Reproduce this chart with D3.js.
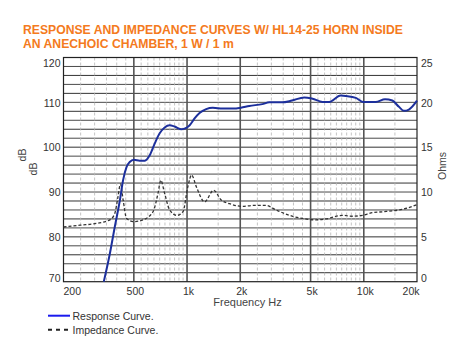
<!DOCTYPE html>
<html><head><meta charset="utf-8">
<script src="https://cdn.jsdelivr.net/npm/d3@7"></script>
<style>body{margin:0;background:#fff}svg{display:block}</style>
</head><body>
<svg id="c" width="467" height="357"></svg>
<script>
// ---- data ----
const titleLines = ["RESPONSE AND IMPEDANCE CURVES W/ HL14-25 HORN INSIDE", "AN ANECHOIC CHAMBER, 1 W / 1 m"];
const freqTicks = [200, 500, 1000, 2000, 5000, 10000, 20000];
const freqTickLabels = ["200", "500", "1k", "2k", "5k", "10k", "20k"];
const dbTicks = [70, 80, 90, 100, 110, 120];
const ohmTicks = [0, 5, 10, 15, 20, 25];
const responseFreq = [338, 366, 390, 417, 435, 455, 474, 500, 540, 577, 615, 656, 700, 747, 797, 851, 930, 990, 1035, 1103, 1177, 1283, 1399, 1590, 1812, 2018, 2248, 2666, 2922, 3449, 3920, 4604, 5129, 5839, 6370, 7396, 7943, 9012, 9908, 11685, 13183, 14500, 15811, 16880, 18000, 20000];
const responseDb = [70.0, 76.3, 82.2, 88.2, 92.7, 95.6, 96.7, 97.2, 97.0, 97.0, 98.2, 100.8, 103.1, 104.4, 104.9, 104.6, 104.0, 104.3, 104.9, 106.4, 107.6, 108.5, 108.8, 108.6, 108.6, 108.8, 109.2, 109.6, 110.0, 110.0, 110.4, 111.1, 110.8, 110.1, 110.1, 111.5, 111.4, 111.0, 110.1, 110.1, 110.7, 110.4, 109.0, 108.1, 108.4, 110.4];
const impFreq = [200, 248, 308, 366, 390, 407, 420, 435, 455, 500, 564, 642, 685, 710, 747, 797, 877, 948, 1011, 1061, 1128, 1257, 1413, 1561, 1738, 2065, 2352, 2800, 3188, 3790, 4502, 5360, 6102, 7570, 8622, 9818, 11170, 12870, 15810, 17540, 20000];
const impOhm = [6.1, 6.3, 6.5, 6.9, 7.6, 9.5, 10.9, 9.1, 7.05, 6.7, 6.9, 7.8, 9.85, 11.3, 9.85, 8.0, 7.4, 7.8, 10.6, 11.9, 10.6, 8.9, 10.2, 9.1, 8.7, 8.4, 8.5, 8.5, 8.0, 7.4, 7.05, 6.9, 7.0, 7.4, 7.3, 7.4, 7.7, 7.8, 8.0, 8.2, 8.6];
const legendLabels = ["Response Curve.", "Impedance Curve."];
// minor vertical grid frequencies (dashed)
const minorFreq = [250,300,350,400,450,550,600,650,700,750,800,850,900,950,1500,2500,3000,3500,4000,4500,5500,6000,6500,7000,7500,8000,8500,9000,9500,15000];

// ---- layout ----
const svg = d3.select("#c");
const L = 63.5, R = 417, T = 57.5, B = 281.7;
const x = d3.scaleLog().domain([200, 20000]).range([L, R]);
const y = d3.scaleLinear().domain([70, 120]).range([B, T]);
const y2 = d3.scaleLinear().domain([0, 25]).range([B, T]);
const font = "Arial, 'Liberation Sans', sans-serif";
const orange = "#f47a20";

// title
const title = svg.append("g");
titleLines.forEach((t, i) => {
  title.append("text").attr("x", 23).attr("y", 34 + i * 14)
    .attr("font-family", font).attr("font-weight", "bold").attr("font-size", 12.6)
    .attr("fill", orange).text(t);
});
const n0 = title.select("text").node();
const w0 = n0.getComputedTextLength();
const fs = 12.6 * 380 / w0;
title.selectAll("text").attr("font-size", fs);

// horizontal grid every 2 dB
svg.append("g").selectAll("line").data(d3.range(72, 120, 2)).join("line")
  .attr("x1", L).attr("x2", R).attr("y1", d => y(d)).attr("y2", d => y(d))
  .attr("stroke", (d) => (d % 4 === 0 ? "#333" : "#4a4a4a")).attr("stroke-width", 1);

// minor vertical dashed
svg.append("g").selectAll("line").data(minorFreq).join("line")
  .attr("x1", d => x(d)).attr("x2", d => x(d)).attr("y1", T).attr("y2", B)
  .attr("stroke", "#b5b5b5").attr("stroke-width", 0.8).attr("stroke-dasharray", "3,2");

// major vertical
svg.append("g").selectAll("line").data(freqTicks.slice(1, -1)).join("line")
  .attr("x1", d => x(d)).attr("x2", d => x(d)).attr("y1", T).attr("y2", B)
  .attr("stroke", "#555").attr("stroke-width", 1.6);

// frame
svg.append("rect").attr("x", L).attr("y", T).attr("width", R - L).attr("height", B - T)
  .attr("fill", "none").attr("stroke", "#222").attr("stroke-width", 1.2);

// curves
const lineR = d3.line().x(d => x(d[0])).y(d => y(d[1])).curve(d3.curveMonotoneX);
const lineI = d3.line().x(d => x(d[0])).y(d => y2(d[1])).curve(d3.curveMonotoneX);
svg.append("path").datum(impFreq.map((f, i) => [f, impOhm[i]])).attr("d", lineI)
  .attr("fill", "none").attr("stroke", "#333").attr("stroke-width", 1.3).attr("stroke-dasharray", "3,2");
svg.append("path").datum(responseFreq.map((f, i) => [f, responseDb[i]])).attr("d", lineR)
  .attr("fill", "none").attr("stroke", "#1c2f9c").attr("stroke-width", 2);

// bottom axis
const xa = svg.append("g").attr("transform", `translate(0,${B})`)
  .call(d3.axisBottom(x).tickValues(freqTicks).tickFormat((d, i) => freqTickLabels[i]).tickSize(0).tickPadding(6));
xa.select(".domain").remove();
xa.selectAll("text").attr("font-family", font).attr("font-size", 10.5).attr("fill", "#333")
  .attr("text-anchor", (d, i) => i === 0 ? "start" : (i === freqTicks.length - 1 ? "end" : "middle"))
  .attr("dx", (d, i) => i === 0 ? -0.5 : (i === freqTicks.length - 1 ? 2 : 1));

// left axis
const ya = svg.append("g").attr("transform", `translate(${L},0)`)
  .call(d3.axisLeft(y).tickValues(dbTicks).tickSize(0).tickPadding(3));
ya.select(".domain").remove();
ya.selectAll("text").attr("font-family", font).attr("font-size", 10.5).attr("fill", "#333")
  .attr("dy", d => d === 120 ? "0.85em" : (d === 70 ? "0" : "0.35em"));

// right axis
const ya2 = svg.append("g").attr("transform", `translate(${R},0)`)
  .call(d3.axisRight(y2).tickValues(ohmTicks).tickSize(0).tickPadding(4));
ya2.select(".domain").remove();
ya2.selectAll("text").attr("font-family", font).attr("font-size", 10.5).attr("fill", "#333")
  .attr("dy", d => d === 25 ? "0.85em" : (d === 0 ? "0" : "0.35em"));

// axis titles
const lab = (tx, ty, rot, t, fsz) => svg.append("text")
  .attr("transform", `translate(${tx},${ty}) rotate(${rot})`).attr("text-anchor", "middle")
  .attr("font-family", font).attr("font-size", fsz || 10.5).attr("fill", "#444").text(t);
lab(26, 155, -90, "dB");
lab(37, 169, -90, "dB");
lab(446, 166, -90, "Ohms");
lab(247.5, 305.5, 0, "Frequency Hz", 11);

// legend
const lg = svg.append("g");
lg.append("line").attr("x1", 48).attr("x2", 70).attr("y1", 315.7).attr("y2", 315.7)
  .attr("stroke", "#1a1aee").attr("stroke-width", 2);
lg.append("line").attr("x1", 48).attr("x2", 70).attr("y1", 329.7).attr("y2", 329.7)
  .attr("stroke", "#222").attr("stroke-width", 2).attr("stroke-dasharray", "4,4");
legendLabels.forEach((t, i) => lg.append("text").attr("x", 72.5).attr("y", 319.5 + i * 14)
  .attr("font-family", font).attr("font-size", 10.5).attr("fill", "#333").text(t));
</script>
</body></html>
